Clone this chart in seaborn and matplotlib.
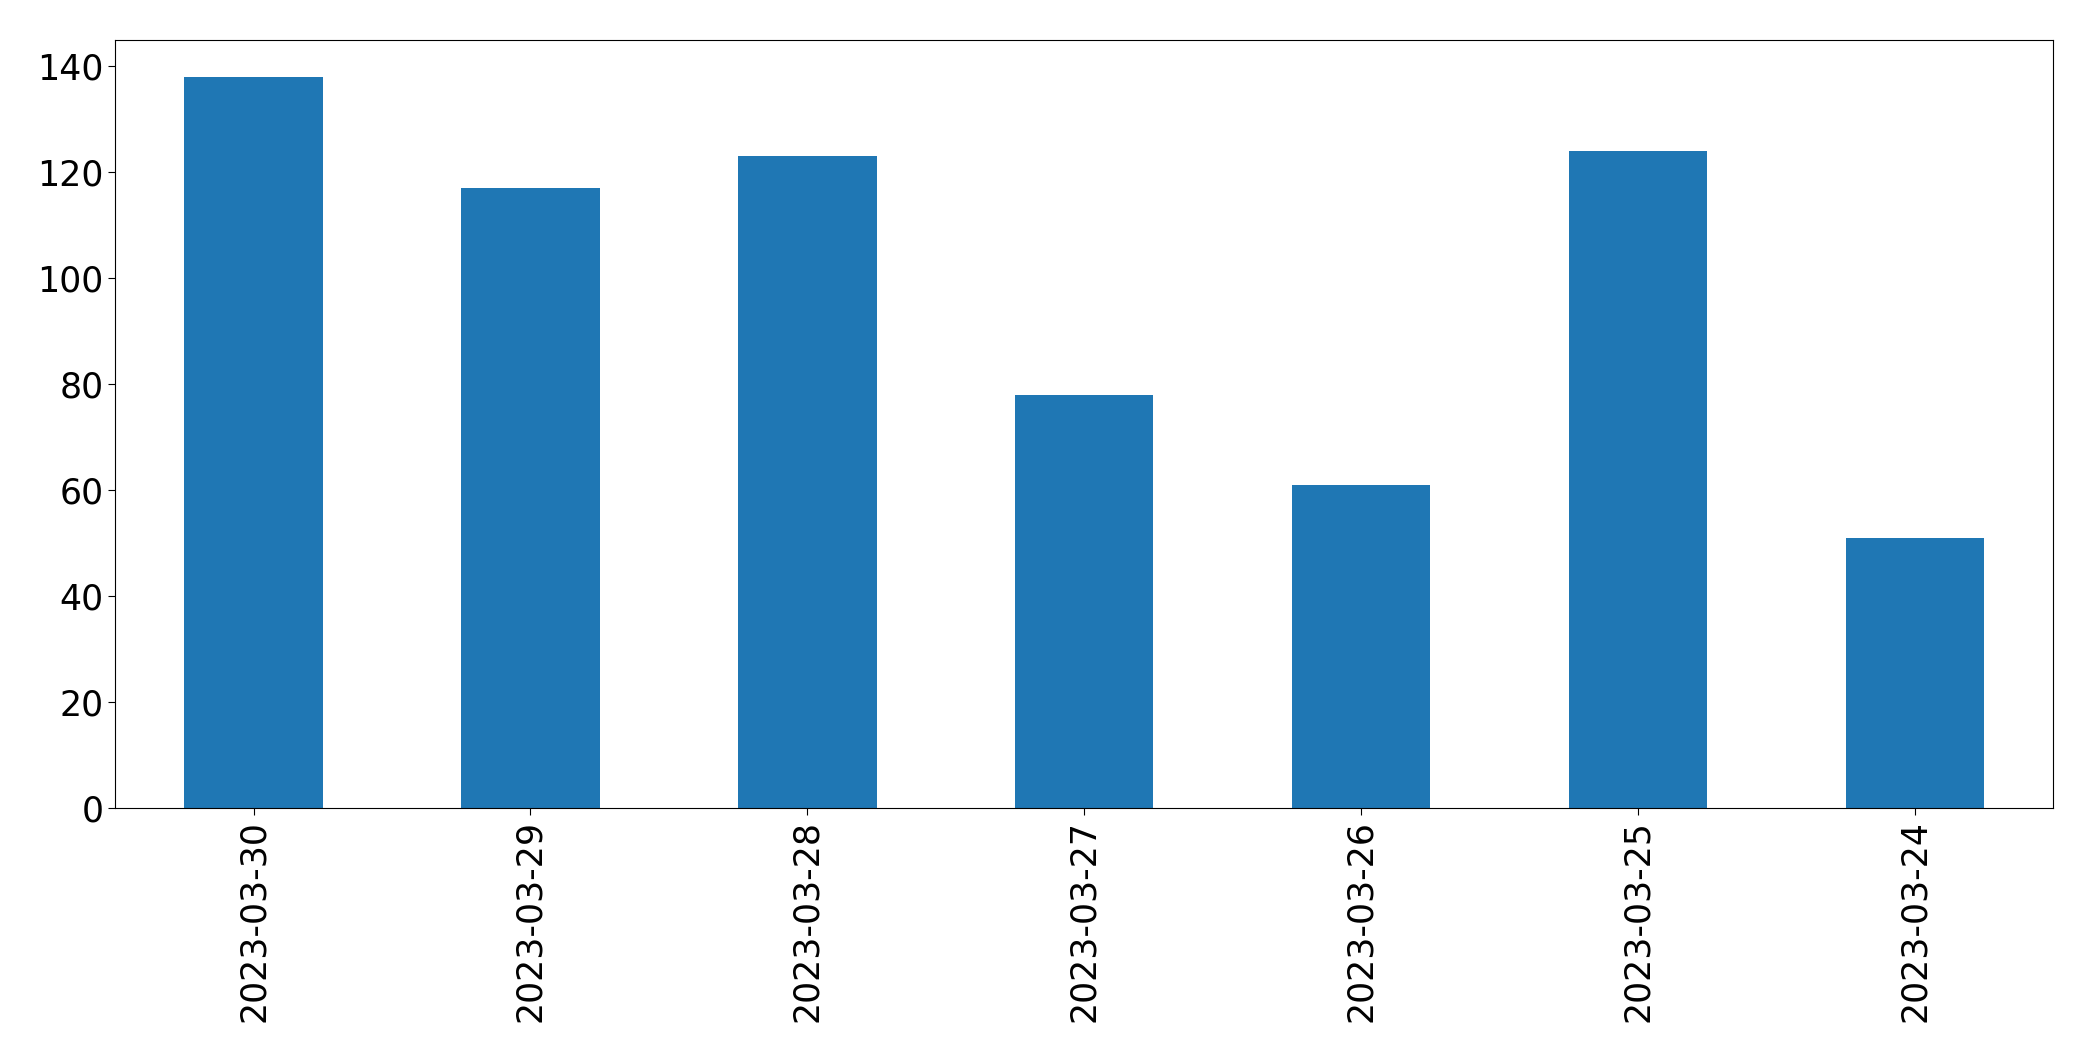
import pandas as pd
import matplotlib
matplotlib.use("Agg")
import matplotlib.pyplot as plt
import seaborn as sns

# data
dates = ['2023-03-30', '2023-03-29', '2023-03-28', '2023-03-27',
         '2023-03-26', '2023-03-25', '2023-03-24']
counts = [138, 117, 123, 78, 61, 124, 51]

df = pd.DataFrame({'date': dates, 'count': counts})

fig = plt.figure(figsize=(20.93, 10.61), dpi=100)
ax = fig.add_axes([0.055, 0.238, 0.926, 0.724])

sns.barplot(data=df, x='date', y='count', order=dates, color='#1f77b4',
            saturation=1, width=0.5, linewidth=0, ax=ax)

ax.set_xlim(-0.5, len(dates) - 0.5)
ax.set_ylim(0, max(counts) * 1.05)
ax.set_xlabel('')
ax.set_ylabel('')
for s in ax.spines.values():
    s.set_color('black')
ax.tick_params(axis='both', labelsize=25, length=5, colors='black')
plt.setp(ax.get_xticklabels(), rotation=90)

fig.savefig('out.png', dpi=100)
